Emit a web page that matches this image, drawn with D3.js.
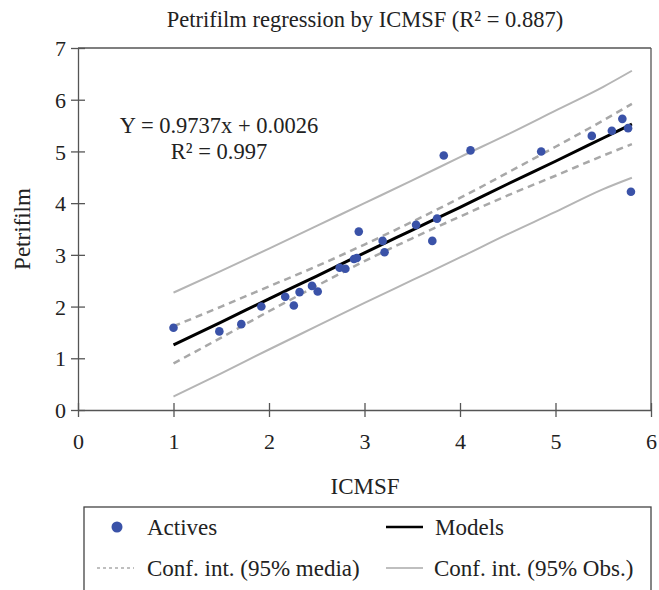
<!DOCTYPE html>
<html>
<head>
<meta charset="utf-8">
<script src="https://cdn.jsdelivr.net/npm/d3@7"></script>
<style>
  body { margin: 0; background: #fff; }
  text { font-family: "Liberation Serif", "DejaVu Serif", serif; fill: #222; }
</style>
</head>
<body>
<svg id="chart" width="659" height="590"></svg>
<script>
// observed points (ICMSF, Petrifilm)
const icmsf = [1.0, 1.48, 1.71, 1.92, 2.17, 2.26, 2.32, 2.45, 2.51, 2.74, 2.80, 2.89, 2.92, 2.94,
  3.19, 3.21, 3.54, 3.71, 3.76, 3.83, 4.11, 4.85, 5.38, 5.59, 5.70, 5.76, 5.79];
const petrifilm = [1.59, 1.52, 1.66, 2.0, 2.19, 2.02, 2.28, 2.40, 2.29, 2.75, 2.73, 2.92, 2.94, 3.45,
  3.27, 3.05, 3.58, 3.27, 3.70, 4.92, 5.02, 5.0, 5.30, 5.40, 5.63, 5.45, 4.22];

// model and band curves read at these x positions
const bandX = [1, 1.5, 2, 2.5, 3, 3.5, 4, 4.5, 5, 5.5, 5.8];
const model = [1.26, 1.70, 2.15, 2.59, 3.04, 3.48, 3.92, 4.37, 4.81, 5.26, 5.53];
const mediaUp = [1.62, 2.00, 2.39, 2.78, 3.20, 3.64, 4.10, 4.59, 5.09, 5.60, 5.92];
const mediaLo = [0.90, 1.40, 1.91, 2.40, 2.88, 3.32, 3.74, 4.15, 4.53, 4.92, 5.14];
const obsUp = [2.27, 2.69, 3.12, 3.56, 4.00, 4.44, 4.89, 5.33, 5.79, 6.25, 6.56];
const obsLo = [0.26, 0.71, 1.17, 1.62, 2.07, 2.51, 2.95, 3.40, 3.83, 4.27, 4.49];

const xTicks = [0, 1, 2, 3, 4, 5, 6];
const yTicks = [0, 1, 2, 3, 4, 5, 6, 7];

const title = "Petrifilm regression by ICMSF (R\u00b2 = 0.887)";
const equation = ["Y = 0.9737x + 0.0026", "R\u00b2 = 0.997"];
const legendItems = ["Actives", "Models", "Conf. int. (95% media)", "Conf. int. (95% Obs.)"];

const svg = d3.select("#chart");
const plotL = 78, plotR = 651, plotT = 48, plotB = 410;

let x = d3.scaleLinear().domain([0, 6]).range([plotL, plotR]);
let y = d3.scaleLinear().domain([0, 7]).range([plotB, plotT]);

const axisColor = "#555";

// frame top & right
svg.append("line").attr("x1", plotL).attr("x2", plotR).attr("y1", plotT).attr("y2", plotT)
  .attr("stroke", axisColor).attr("stroke-width", 1.3);
svg.append("line").attr("x1", plotR).attr("x2", plotR).attr("y1", plotT).attr("y2", plotB)
  .attr("stroke", axisColor).attr("stroke-width", 1.3);

// axes
let gx = svg.append("g").attr("transform", `translate(0,${plotB})`)
  .call(d3.axisBottom(x).tickValues(xTicks).tickFormat(d3.format("d")).tickSizeOuter(0));
let gy = svg.append("g").attr("transform", `translate(${plotL},0)`)
  .call(d3.axisLeft(y).tickValues(yTicks).tickFormat(d3.format("d")).tickSizeOuter(0));

// ticks cross the axis line
gx.selectAll(".tick line").attr("y1", -7).attr("y2", 7);
gy.selectAll(".tick line").attr("x1", -7).attr("x2", 7);
[gx, gy].forEach(g => {
  g.select(".domain").attr("stroke", axisColor).attr("stroke-width", 1.3);
  g.selectAll(".tick line").attr("stroke", axisColor).attr("stroke-width", 1.3);
  g.selectAll("text").style("font-family", "Liberation Serif").style("font-size", "22px").attr("fill", "#222");
});
gx.selectAll("text").attr("y", 39).attr("dy", 0);
gy.selectAll("text").attr("x", -12).attr("dy", "0.35em");

let line = d3.line()
  .x((d, i) => x(bandX[i]))
  .y(d => y(d))
  .curve(d3.curveMonotoneX);

// bands
[obsUp, obsLo].forEach(arr => {
  svg.append("path").attr("d", line(arr)).attr("fill", "none")
    .attr("stroke", "#b5b5b5").attr("stroke-width", 2);
});
[mediaUp, mediaLo].forEach(arr => {
  svg.append("path").attr("d", line(arr)).attr("fill", "none")
    .attr("stroke", "#a8a8a8").attr("stroke-width", 2.5).attr("stroke-dasharray", "7,5");
});

// model
svg.append("path").attr("d", line(model)).attr("fill", "none")
  .attr("stroke", "#000").attr("stroke-width", 3);

// points
svg.selectAll("circle.pt")
  .data(icmsf)
  .enter()
  .append("circle")
  .attr("class", "pt")
  .attr("cx", d => x(d))
  .attr("cy", (d, i) => y(petrifilm[i]))
  .attr("r", 4.3)
  .attr("fill", "#3a52a8");

// title and labels
svg.append("text").attr("x", 365).attr("y", 27).attr("text-anchor", "middle")
  .style("font-size", "22.5px").text(title);
svg.append("text").attr("x", 365).attr("y", 494).attr("text-anchor", "middle")
  .style("font-size", "23px").text("ICMSF");
svg.append("text").attr("transform", "translate(30,229) rotate(-90)").attr("text-anchor", "middle")
  .style("font-size", "23px").text("Petrifilm");

// equation
svg.selectAll("text.eq")
  .data(equation)
  .enter()
  .append("text")
  .attr("class", "eq")
  .attr("x", 219)
  .attr("y", (d, i) => 133 + i * 26)
  .attr("text-anchor", "middle")
  .style("font-size", "22.5px")
  .text(d => d);

// legend
svg.append("rect").attr("x", 84).attr("y", 507).attr("width", 567).attr("height", 100)
  .attr("fill", "none").attr("stroke", "#444").attr("stroke-width", 1.3);

const leg = svg.append("g");
leg.append("circle").attr("cx", 117).attr("cy", 527).attr("r", 5.5).attr("fill", "#3a52a8");
leg.append("line").attr("x1", 386).attr("x2", 423).attr("y1", 527).attr("y2", 527)
  .attr("stroke", "#000").attr("stroke-width", 2.5);
leg.append("line").attr("x1", 97).attr("x2", 134).attr("y1", 568).attr("y2", 568)
  .attr("stroke", "#aaa").attr("stroke-width", 1.5).attr("stroke-dasharray", "3,3");
leg.append("line").attr("x1", 386).attr("x2", 423).attr("y1", 568).attr("y2", 568)
  .attr("stroke", "#aaa").attr("stroke-width", 1.5);

const legPos = [[147, 535], [435, 535], [147, 576], [434, 576]];
leg.selectAll("text")
  .data(legendItems)
  .enter()
  .append("text")
  .attr("x", (d, i) => legPos[i][0])
  .attr("y", (d, i) => legPos[i][1])
  .style("font-size", "23px")
  .text(d => d);
</script>
</body>
</html>
